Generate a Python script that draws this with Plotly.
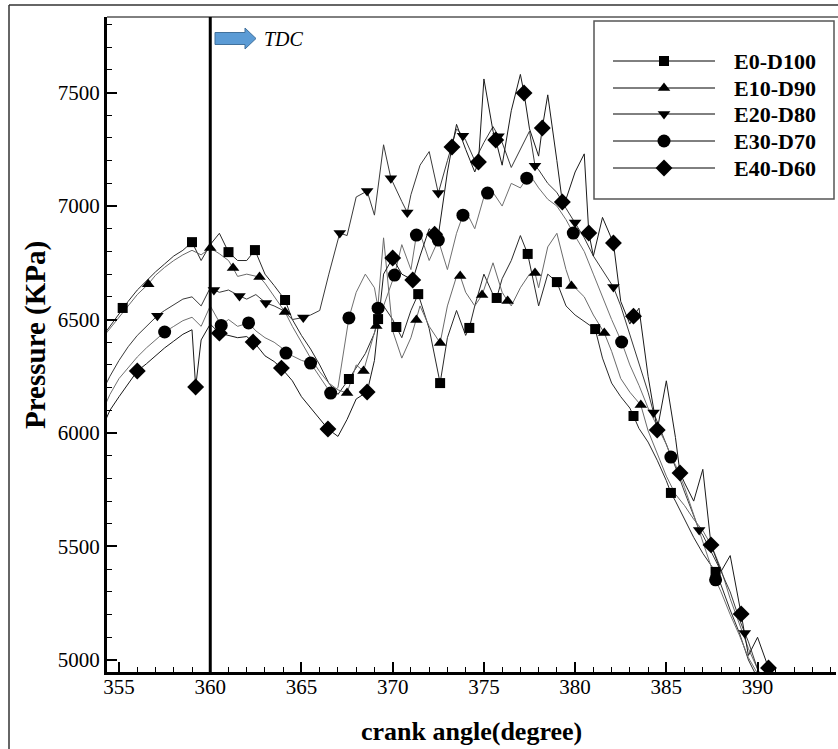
import plotly.graph_objects as go

# ---------------- data ----------------
angle = [354.0, 354.5, 355.0, 355.5, 356.0, 356.5, 357.0, 357.5, 358.0, 358.5,
         359.0, 359.5, 360.0, 360.5, 361.0, 361.5, 362.0, 362.5, 363.0, 363.5,
         364.0, 364.5, 365.0, 365.5, 366.0, 366.5, 367.0, 367.5, 368.0, 368.5,
         369.0, 369.5, 370.0, 370.5, 371.0, 371.5, 372.0, 372.5, 373.0, 373.5,
         374.0, 374.5, 375.0, 375.5, 376.0, 376.5, 377.0, 377.5, 378.0, 378.5,
         379.0, 379.5, 380.0, 380.5, 381.0, 381.5, 382.0, 382.5, 383.0, 383.5,
         384.0, 384.5, 385.0, 385.5, 386.0, 386.5, 387.0, 387.5, 388.0, 388.5,
         389.0, 389.5, 390.0, 390.5, 391.0]

e0_p = [6415, 6470, 6525, 6580, 6630, 6670, 6710, 6745, 6780, 6805,
        6830, 6760, 6830, 6880, 6790, 6760, 6760, 6730, 6700, 6650,
        6600, 6500, 6430, 6370, 6300, 6220, 6170, 6190, 6290, 6350,
        6440, 6560, 6500, 6420, 6540, 6640, 6460, 6280, 6420, 6540,
        6430, 6560, 6700, 6610, 6680, 6760, 6870, 6770, 6560, 6700,
        6680, 6560, 6520, 6490, 6470, 6330, 6220, 6160, 6110, 6020,
        5960, 5880, 5790, 5700, 5620, 5540, 5470, 5410, 5330, 5220,
        5120, 5000, 4920, 4850, 4800]
e0_mark_x = [355.2, 359.0, 361.0, 362.45, 364.1, 367.6, 369.2, 370.2, 371.4, 372.6,
             374.2, 375.7, 377.4, 379.0, 381.1, 383.2, 385.25, 387.7]
e0_mark_y = [6551, 6841, 6797, 6806, 6586, 6238, 6502, 6467, 6612, 6220,
             6463, 6595, 6789, 6665, 6458, 6075, 5736, 5388]

e10_p = [6410, 6460, 6515, 6565, 6610, 6650, 6695, 6730, 6760, 6785,
         6805, 6785, 6815, 6790, 6760, 6690, 6700, 6690, 6660, 6600,
         6540, 6470, 6400, 6330, 6270, 6220, 6190, 6180, 6300, 6250,
         6420, 6860, 6450, 6330, 6420, 6560, 6470, 6400, 6560, 6690,
         6620, 6560, 6620, 6750, 6620, 6560, 6640, 6700, 6640, 6820,
         6880, 6720, 6640, 6600, 6520, 6440, 6360, 6240, 6180, 6120,
         6010, 5910, 5810, 5730, 5680, 5620, 5570, 5500, 5400, 5270,
         5160, 5050, 4960, 4880, 4800]
e10_mark_x = [356.6, 360.0, 361.25, 362.7, 364.1, 367.5, 368.4, 369.1, 371.3, 372.6,
              373.7, 374.9, 376.3, 377.8, 379.8, 381.6, 383.6]
e10_mark_y = [6656, 6815, 6727, 6687, 6533, 6176, 6273, 6471, 6498, 6397,
              6692, 6608, 6582, 6705, 6648, 6441, 6123]

e20_p = [6170, 6250, 6320, 6380, 6430, 6470, 6510, 6540, 6565, 6590,
         6600, 6560, 6640, 6620, 6630, 6600, 6590, 6610, 6570, 6560,
         6540, 6500, 6510, 6520, 6540, 6700, 6880, 6870, 7040, 7200,
         6960, 7270, 7180, 7020, 7050, 7180, 7240, 7060, 7200, 7340,
         7290, 7200, 7280, 7350, 7280, 7170, 7250, 7330, 7160, 7100,
         7060, 6990, 6930, 6860, 6780, 6720, 6660, 6560, 6430, 6300,
         6180, 6050, 5950, 5850, 5740, 5640, 5550, 5470, 5390, 5300,
         5180, 5080, 4960, 4880, 4800]
e20_mark_x = [357.1, 360.2, 361.6, 363.05, 365.1, 367.1, 368.6, 369.9, 370.8, 372.5,
              373.85, 375.8, 377.8, 380.0, 382.1, 384.3, 386.8, 389.3]
e20_mark_y = [6517, 6630, 6604, 6573, 6509, 6881, 7066, 7123, 6972, 7057,
              7310, 7308, 7178, 6928, 6643, 6090, 5573, 5119]

e30_p = [6080, 6170, 6240, 6290, 6335, 6375, 6410, 6440, 6470, 6495,
         6510, 6470, 6560, 6490, 6500, 6470, 6490, 6450, 6420, 6400,
         6370, 6340, 6320, 6300, 6250, 6180, 6200, 6470, 6620, 6700,
         6640, 6560, 6700, 6830, 6720, 6880, 6760, 6850, 6720, 6880,
         6980, 6900, 7040, 7060, 7000, 7100, 7080, 7140, 7080, 7030,
         7000, 6940, 6880, 6800, 6700, 6600, 6500, 6400, 6300, 6210,
         6110, 6030, 5950, 5860, 5760, 5640, 5520, 5400, 5300, 5200,
         5110, 5010, 4940, 4870, 4800]
e30_mark_x = [357.5, 360.6, 362.1, 364.15, 365.5, 366.6, 367.6, 369.2, 370.1, 371.3,
              372.5, 373.85, 375.2, 377.35, 379.9, 382.55, 385.25, 387.7]
e30_mark_y = [6445, 6474, 6485, 6352, 6308, 6176, 6507, 6550, 6696, 6872,
              6850, 6960, 7057, 7123, 6881, 6401, 5894, 5353]

e40_p = [6010, 6100, 6160, 6215, 6265, 6305, 6340, 6375, 6405, 6435,
         6455, 6410, 6480, 6440, 6430, 6420, 6425, 6390, 6340, 6315,
         6280, 6230, 6160, 6110, 6060, 6015, 5985, 6060, 6150, 6180,
         6320, 6700, 6780, 6700, 6660, 6780, 6900, 6870, 7150, 7360,
         7250, 7150, 7560, 7330, 7180, 7420, 7580, 7340, 7220, 7490,
         7200, 7030, 7150, 7230, 6780, 6950, 6870, 6580, 6480, 6550,
         6250, 6020, 6230, 5980, 5780, 5700, 5840, 5490, 5390, 5460,
         5220, 5020, 5100, 5000, 4920]
e40_mark_x = [356.0, 359.2, 360.5, 362.35, 363.9, 366.45, 368.6, 370.0, 371.1, 372.3,
              373.25, 374.7, 375.65, 377.2, 378.2, 379.3, 380.75, 382.1, 383.2, 384.5,
              385.75, 387.45, 389.1, 390.6]
e40_mark_y = [6273, 6203, 6440, 6401, 6286, 6018, 6181, 6771, 6674, 6876,
              7260, 7194, 7291, 7498, 7344, 7018, 6881, 6837, 6515, 6013,
              5824, 5507, 5203, 4965]

series_names = ["E0-D100", "E10-D90", "E20-D80", "E30-D70", "E40-D60"]
x_ticks = [355, 360, 365, 370, 375, 380, 385, 390]
y_ticks = [5000, 5500, 6000, 6500, 7000, 7500]

# ---------------- styling ----------------
SERIF = "Liberation Serif"
symbols = ["square", "triangle-up", "triangle-down", "circle", "diamond"]
msizes = [10, 11, 11, 13, 13]
lcolors = ["#2a2a2a", "#6a6a6a", "#3a3a3a", "#707070", "#1a1a1a"]

data = [(e0_p, e0_mark_x, e0_mark_y), (e10_p, e10_mark_x, e10_mark_y),
        (e20_p, e20_mark_x, e20_mark_y), (e30_p, e30_mark_x, e30_mark_y),
        (e40_p, e40_mark_x, e40_mark_y)]


def merge(xs, ys, mx, my):
    pts = [(a, b) for a, b in zip(xs, ys)
           if all(abs(a - m) > 0.12 for m in mx)]
    pts += list(zip(mx, my))
    pts.sort()
    return [p[0] for p in pts], [p[1] for p in pts]


fig = go.Figure()
for (vals, mx, my), name, col in zip(data, series_names, lcolors):
    lx, ly = merge(angle, vals, mx, my)
    fig.add_trace(go.Scatter(x=lx, y=ly, mode="lines", name=name,
                             line=dict(color=col, width=1), showlegend=False,
                             hoverinfo="skip"))
for (vals, mx, my), name, sym, ms in zip(data, series_names, symbols, msizes):
    fig.add_trace(go.Scatter(x=mx, y=my, mode="markers", name=name,
                             marker=dict(symbol=sym, size=ms, color="black",
                                         line=dict(width=0)),
                             showlegend=False))

# ---- hand-drawn legend ----
W_PLOT = 729.0
H_PLOT = 655.0


def px2x(px):
    return (px - 107) / W_PLOT


def py2y(py):
    return (672 - py) / H_PLOT


legend_rows_py = [61, 88, 114, 141, 168]
shapes = []
annotations = []
shapes.append(dict(type="rect", xref="paper", yref="paper",
                   x0=px2x(594), x1=px2x(834), y0=py2y(199), y1=py2y(21),
                   line=dict(color="#555555", width=1.5), fillcolor="white",
                   layer="below"))
for name, sym, ms, rpy in zip(series_names, symbols, msizes, legend_rows_py):
    shapes.append(dict(type="line", xref="paper", yref="paper",
                       x0=px2x(613), x1=px2x(715), y0=py2y(rpy), y1=py2y(rpy),
                       line=dict(color="black", width=1)))
    fig.add_trace(go.Scatter(x=[px2x(664)], y=[py2y(rpy)], mode="markers",
                             xaxis="x2", yaxis="y2", showlegend=False,
                             marker=dict(symbol=sym, size=ms, color="black"),
                             hoverinfo="skip"))
    annotations.append(dict(text=name, xref="paper", yref="paper",
                            x=px2x(732), y=py2y(rpy), xanchor="left",
                            yanchor="middle", showarrow=False,
                            font=dict(family=SERIF, size=22, color="black",
                                      weight="bold")))

shapes.append(dict(type="line", xref="x", yref="paper", x0=360, x1=360,
                   y0=0, y1=1, line=dict(color="black", width=3)))
shapes.append(dict(type="line", xref="paper", yref="paper", x0=0, x1=1.01,
                   y0=1, y1=1, line=dict(color="black", width=1)))
shapes.append(dict(type="line", xref="paper", yref="paper",
                   x0=px2x(9), x1=px2x(9), y0=py2y(760), y1=py2y(5),
                   line=dict(color="#333333", width=1.5)))
shapes.append(dict(type="line", xref="paper", yref="paper",
                   x0=px2x(9), x1=px2x(845), y0=py2y(5), y1=py2y(5),
                   line=dict(color="#333333", width=1.5)))
ax0, ax1, ax2 = px2x(215), px2x(245), px2x(256)
yb0, yb1, yh0, yh1, yt = py2y(44.5), py2y(32.5), py2y(49), py2y(28), py2y(38.5)
arrow_path = (f"M {ax0},{yb1} L {ax1},{yb1} L {ax1},{yh1} L {ax2},{yt} "
              f"L {ax1},{yh0} L {ax1},{yb0} L {ax0},{yb0} Z")
shapes.append(dict(type="path", xref="paper", yref="paper", path=arrow_path,
                   fillcolor="#5B9BD5", line=dict(color="#41719C", width=1)))
annotations.append(dict(text="<i>TDC</i>", xref="paper", yref="paper",
                        x=px2x(262), y=py2y(39), xanchor="left",
                        yanchor="middle", showarrow=False,
                        font=dict(family=SERIF, size=20, color="black")))
annotations.append(dict(text="crank angle(degree)", xref="paper", yref="paper",
                        x=px2x(471), y=py2y(731), xanchor="center",
                        yanchor="middle", showarrow=False,
                        font=dict(family=SERIF, size=26, color="black",
                                  weight="bold")))
annotations.append(dict(text="Pressure (KPa)", xref="paper", yref="paper",
                        x=px2x(35), y=py2y(335), xanchor="center",
                        yanchor="middle", showarrow=False, textangle=-90,
                        font=dict(family=SERIF, size=29, color="black",
                                  weight="bold")))

fig.update_layout(
    width=838, height=749,
    margin=dict(l=107, r=2, t=17, b=77),
    paper_bgcolor="white", plot_bgcolor="white",
    font=dict(family=SERIF, color="black"),
    showlegend=False,
    shapes=shapes, annotations=annotations,
    xaxis=dict(range=[354.34, 394.3], showline=True, linecolor="black",
               linewidth=3, ticks="inside", ticklen=10, tickwidth=2,
               tickcolor="black", tickvals=x_ticks, showgrid=False,
               zeroline=False, ticklabelstandoff=-6,
               minor=dict(ticks="inside", ticklen=5, tickwidth=1,
                          tickcolor="black", dtick=1, tick0=355),
               tickfont=dict(family=SERIF, size=21, color="black")),
    yaxis=dict(range=[4947, 7833], showline=True, linecolor="black",
               linewidth=3, ticks="inside", ticklen=10, tickwidth=2,
               tickcolor="black", tickvals=y_ticks, showgrid=False,
               zeroline=False,
               minor=dict(ticks="inside", ticklen=5, tickwidth=1,
                          tickcolor="black", dtick=100, tick0=5000),
               tickfont=dict(family=SERIF, size=21, color="black")),
    xaxis2=dict(overlaying="x", range=[0, 1], visible=False, anchor="y2"),
    yaxis2=dict(overlaying="y", range=[0, 1], visible=False, anchor="x2"),
)

fig.write_html("out.html")
